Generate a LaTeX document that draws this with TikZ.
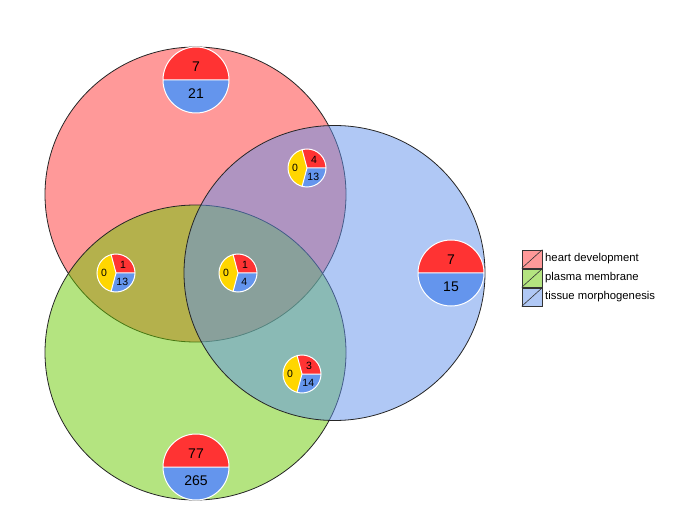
\documentclass[tikz,border=0pt]{standalone}
\usepackage{fontspec}
\setmainfont{Liberation Sans}
\definecolor{setred}{RGB}{255,51,51}
\definecolor{setgreen}{RGB}{105,201,1}
\definecolor{setblue}{RGB}{97,145,235}
\definecolor{piered}{RGB}{255,51,51}
\definecolor{pieblue}{RGB}{100,149,237}
\definecolor{pieyellow}{RGB}{255,214,0}

% two-part pie: name, centre, top value, bottom value
\newcommand{\twopie}[4]{%
  \coordinate (#1) at (#2);
  \fill[piered] (#1) ++(33,0) arc (0:180:33) -- cycle;
  \fill[pieblue] (#1) ++(-33,0) arc (180:360:33) -- cycle;
  \draw[pieline] (#1) circle (33) (#1) ++(-33,0) -- ++(66,0);
  \node[bignum] (#1-top) at ([yshift=13pt]#1) {#3};
  \node[bignum] (#1-bot) at ([yshift=-14pt]#1) {#4};
}
% three-part pie: name, centre, red value, yellow value, blue value
\newcommand{\threepie}[5]{%
  \coordinate (#1) at (#2);
  \fill[piered] (#1) -- ++(0:19) arc (0:105:19) -- cycle;
  \fill[pieyellow] (#1) -- ++(105:19) arc (105:255:19) -- cycle;
  \fill[pieblue] (#1) -- ++(255:19) arc (255:360:19) -- cycle;
  \draw[pieline] (#1) circle (19);
  \draw[pieline] (#1) -- ++(0:19) (#1) -- ++(105:19) (#1) -- ++(255:19);
  \node[smallnum] (#1-r) at ([shift={(50:11)}]#1) {#3};
  \node[smallnum] (#1-y) at ([shift={(180:12)}]#1) {#4};
  \node[smallnum] (#1-b) at ([shift={(305:11)}]#1) {#5};
}

\begin{document}
\begin{tikzpicture}[x=1pt, y=1pt,
    setcirc/.style = {draw=black!85, line width=0.8pt, fill opacity=0.5},
    pieline/.style = {draw=white, line width=1pt},
    bignum/.style = {inner sep=0pt, font=\fontsize{14}{16}\selectfont},
    smallnum/.style = {inner sep=0pt, font=\fontsize{10.5}{12}\selectfont},
    legbox/.style = {draw=black!80, line width=0.6pt, minimum width=20pt, minimum height=18pt, inner sep=0pt},
    legtext/.style = {anchor=west, inner sep=0pt, font=\fontsize{11.3}{13}\selectfont}
]
    \useasboundingbox (0,0) rectangle (682,509);

    % the three sets
    \path[setcirc, fill=setred] (195.5,314.5) ellipse [x radius=150.5, y radius=147.5];
    \path[setcirc, fill=setgreen] (195.5,156.5) ellipse [x radius=150.5, y radius=147.5];
    \path[setcirc, fill=setblue] (334.5,236) ellipse [x radius=150.5, y radius=147.5];

    % counts
    \twopie{heart}{196,429}{7}{21}
    \twopie{tissue}{451,236}{7}{15}
    \twopie{plasma}{196,42}{77}{265}
    \threepie{hp}{116,236}{1}{0}{13}
    \threepie{hpt}{238,236}{1}{0}{4}
    \threepie{ht}{307,341}{4}{0}{13}
    \threepie{pt}{302,135}{3}{0}{14}

    % legend
    \node[legbox, fill=setred!50] (keyheart) at (532,250) {};
    \node[legbox, fill=setgreen!50] (keyplasma) at (532,231) {};
    \node[legbox, fill=setblue!50] (keytissue) at (532,212) {};
    \foreach \k in {keyheart, keyplasma, keytissue}
        \draw[black!80, line width=0.6pt] (\k.south west) -- (\k.north east);
    \node[legtext] (labheart) at (545,250) {heart development};
    \node[legtext] (labplasma) at (545,231) {plasma membrane};
    \node[legtext] (labtissue) at (545,212) {tissue morphogenesis};
\end{tikzpicture}
\end{document}
